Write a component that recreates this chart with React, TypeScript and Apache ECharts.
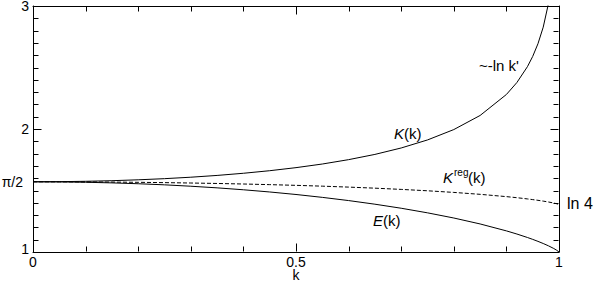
import React, { useEffect, useRef } from "react";
import * as echarts from "echarts";

// modulus k
const kGrid = [0, 0.05, 0.1, 0.15, 0.2, 0.25, 0.3, 0.35, 0.4, 0.45, 0.5, 0.55, 0.6, 0.65, 0.7, 0.75, 0.8, 0.85, 0.9, 0.92, 0.94, 0.95, 0.96, 0.97, 0.98, 0.99, 0.995, 1];
// K(k)
const kValues = [1.5708, 1.5718, 1.5747, 1.5797, 1.5869, 1.5962, 1.608, 1.6225, 1.64, 1.6609, 1.6858, 1.7153, 1.7508, 1.7934, 1.8457, 1.911, 1.9953, 2.1099, 2.2805, 2.3781, 2.5069, 2.59, 2.6931, 2.828, 3.021, 3.3566, 3.6968, null];
// E(k)
const eValues = [1.5708, 1.5698, 1.5669, 1.5619, 1.555, 1.546, 1.5348, 1.5215, 1.5059, 1.488, 1.4675, 1.4442, 1.4181, 1.3887, 1.3557, 1.3184, 1.2763, 1.2281, 1.1717, 1.146, 1.1179, 1.1027, 1.0865, 1.0691, 1.0501, 1.0285, 1.0159, 1.0];
// K^reg(k)
const kRegValues = [1.5708, 1.5705, 1.5697, 1.5684, 1.5665, 1.564, 1.5609, 1.5572, 1.5528, 1.5477, 1.5419, 1.5353, 1.5276, 1.519, 1.509, 1.4977, 1.4845, 1.4689, 1.4502, 1.4414, 1.4315, 1.426, 1.4202, 1.4137, 1.4065, 1.3981, 1.393, 1.3863];

// inward tick marks on all four sides of the frame
const xTickValues = [0.1, 0.2, 0.3, 0.4, 0.5, 0.6, 0.7, 0.8, 0.9];
const xMajorTicks = [0.5];
const yTickValues = [1.1, 1.2, 1.3, 1.4, 1.5, 1.6, 1.7, 1.8, 1.9, 2, 2.1, 2.2, 2.3, 2.4, 2.5, 2.6, 2.7, 2.8, 2.9];
const yMajorTicks = [2];
const yTickLabels = [1, 2, 3];
const specialY = Math.PI / 2;
const specialYLabel = "π/2";

const FONT = '"Liberation Sans", Arial, Helvetica, sans-serif';
const W = 596;
const H = 282;
const G = { left: 33, right: 37, top: 6, bottom: 30 };

function pairs(vals: (number | null)[]) {
  return kGrid.map((k, i) => [k, vals[i]]);
}

const mkAxisLine = () => ({ show: true, onZero: false, lineStyle: { color: "#000", width: 1 } });

export default function App() {
  const ref = useRef<HTMLDivElement>(null);
  useEffect(() => {
    document.body.style.margin = "0";
    if (!ref.current) return;
    const chart = echarts.init(ref.current, undefined, { renderer: "svg" });
    const labelStyle = { color: "#000", fontSize: 14, fontFamily: FONT };
    const xBase = () => ({
      type: "value",
      min: 0,
      max: 1,
      interval: 0.5,
      axisLine: mkAxisLine(),
      axisTick: { show: false },
      minorTick: { show: false },
      splitLine: { show: false },
      minorSplitLine: { show: false },
    });
    const yBase = () => ({
      type: "value",
      min: 1,
      max: 3,
      interval: 1,
      axisLine: mkAxisLine(),
      axisTick: { show: false },
      minorTick: { show: false },
      splitLine: { show: false },
      minorSplitLine: { show: false },
    });
    const lineSeries = (name: string, vals: (number | null)[], type: string) => ({
      type: "line",
      name,
      data: pairs(vals),
      showSymbol: false,
      symbol: "none",
      clip: true,
      connectNulls: false,
      lineStyle: { color: "#000", width: 1, type: type === "dashed" ? [4, 2] : "solid" },
      xAxisIndex: 0,
      yAxisIndex: 0,
    });
    const txt = (x: number, y: number, text: string, size = 15, align = "left") => ({
      type: "text",
      x,
      y,
      silent: true,
      style: {
        text,
        fill: "#000",
        fontSize: size,
        fontFamily: FONT,
        align,
        verticalAlign: "middle",
        rich: {
          i: { fontStyle: "italic", fontSize: size, fontFamily: FONT, fill: "#000" },
        },
      },
    });
    // tick data: [axisDir (0 = x, 1 = y), value, length]
    const tickData: number[][] = [
      ...xTickValues.map((v) => [0, v, xMajorTicks.includes(v) ? 8 : 5]),
      ...yTickValues.map((v) => [1, v, yMajorTicks.includes(v) ? 8 : 5]),
    ];
    const tickSeries = {
      type: "custom",
      name: "ticks",
      silent: true,
      clip: false,
      z: 10,
      xAxisIndex: 0,
      yAxisIndex: 0,
      data: tickData,
      encode: { x: -1, y: -1 },
      renderItem: (params: any, api: any) => {
        const dir = api.value(0);
        const v = api.value(1);
        const len = api.value(2);
        const cs = params.coordSys;
        const left = Math.round(cs.x) + 0.5;
        const right = Math.round(cs.x + cs.width) - 0.5;
        const top = Math.round(cs.y) + 0.5;
        const bottom = Math.round(cs.y + cs.height) - 0.5;
        const st = { stroke: "#000", lineWidth: 1, fill: null };
        if (dir === 0) {
          const x = Math.round(api.coord([v, 1])[0]) + 0.5;
          return {
            type: "group",
            children: [
              { type: "line", shape: { x1: x, y1: bottom, x2: x, y2: bottom - len }, style: st },
              { type: "line", shape: { x1: x, y1: top, x2: x, y2: top + len }, style: st },
            ],
          };
        }
        const y = Math.round(api.coord([0, v])[1]) + 0.5;
        return {
          type: "group",
          children: [
            { type: "line", shape: { x1: left, y1: y, x2: left + len, y2: y }, style: st },
            { type: "line", shape: { x1: right, y1: y, x2: right - len, y2: y }, style: st },
          ],
        };
      },
    };
    chart.setOption({
      animation: false,
      grid: { ...G, containLabel: false, outerBoundsMode: "none" },
      xAxis: [
        {
          ...xBase(),
          position: "bottom",
          axisLabel: { ...labelStyle, margin: 3 },
          name: "k",
          nameLocation: "middle",
          nameGap: 16,
          nameMoveOverlap: false,
          nameTextStyle: { ...labelStyle },
        },
        { ...xBase(), position: "top", axisLabel: { show: false } },
      ],
      yAxis: [
        {
          ...yBase(),
          position: "left",
          axisLabel: {
            ...labelStyle,
            margin: 4,
            formatter: (v: number) => {
              const s = yTickLabels.includes(v) ? String(v) : "";
              return v === 1 ? `{lo|${s}}` : s;
            },
            rich: { lo: { ...labelStyle, padding: [0, 0, 7, 0] } },
          },
        },
        { ...yBase(), position: "right", axisLabel: { show: false } },
      ],
      series: [
        lineSeries("K", kValues, "solid"),
        lineSeries("E", eValues, "solid"),
        lineSeries("Kreg", kRegValues, "dashed"),
        tickSeries,
      ],
    });

    const p = chart.convertToPixel({ gridIndex: 0 }, [0, specialY]) as number[];
    chart.setOption({
      graphic: [
        txt(p[0] - 10, p[1], specialYLabel, 14, "right"),
        txt(394, 133, "{i|K}(k)"),
        txt(373, 220, "{i|E}(k)"),
        txt(443, 177, "{i|K}"),
        txt(454, 172, "reg", 10),
        txt(468, 177, "(k)"),
        txt(479, 65, "~-ln k'"),
        txt(567, 203, "ln 4", 16),
      ],
    });
    return () => chart.dispose();
  }, []);
  return <div ref={ref} style={{ width: W, height: H }} />;
}
